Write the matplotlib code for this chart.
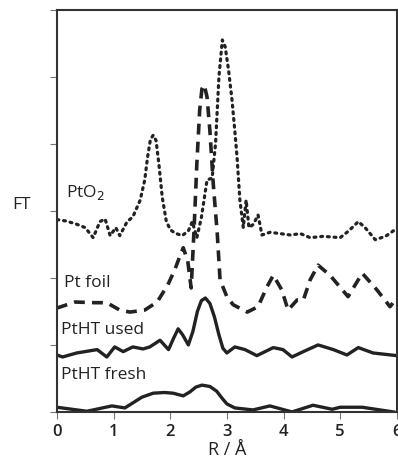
import numpy as np
import matplotlib.pyplot as plt

plt.rcParams['font.family'] = ['Open Sans', 'DejaVu Sans']

# PtO2 (dotted)
r_pto2 = [0.0, 0.15, 0.32, 0.5, 0.64, 0.76, 0.85, 0.94, 1.04, 1.11, 1.24, 1.34, 1.47,
          1.55, 1.6, 1.65, 1.70, 1.75, 1.8, 1.86, 1.93, 2.0, 2.08, 2.21, 2.32, 2.39, 2.47,
          2.55, 2.65, 2.74, 2.8, 2.86, 2.92, 2.97, 3.03, 3.09, 3.14, 3.18, 3.23, 3.29,
          3.34, 3.39, 3.47, 3.55, 3.62, 3.76, 3.95, 4.12, 4.3, 4.47, 4.7, 5.0, 5.15,
          5.32, 5.44, 5.62, 5.8, 5.97]
ft_pto2 = [2.87, 2.85, 2.81, 2.75, 2.6, 2.84, 2.88, 2.63, 2.75, 2.63, 2.84, 2.91, 3.16,
           3.46, 3.8, 4.06, 4.13, 4.05, 3.7, 3.2, 2.85, 2.72, 2.67, 2.63, 2.7, 2.84, 2.6,
           2.9, 3.46, 3.49, 4.0, 5.0, 5.55, 5.45, 5.1, 4.66, 4.2, 3.8, 3.16, 2.75,
           3.16, 2.75, 2.8, 2.94, 2.64, 2.68, 2.66, 2.64, 2.66, 2.6, 2.62, 2.6, 2.7,
           2.84, 2.75, 2.57, 2.62, 2.72]

# Pt foil (dashed)
r_foil = [0.0, 0.32, 0.67, 0.88, 1.11, 1.29, 1.55, 1.77, 1.96, 2.08, 2.16, 2.23, 2.31,
          2.37, 2.42, 2.47, 2.52, 2.56, 2.6, 2.65, 2.7, 2.76, 2.83, 2.88, 3.0, 3.11,
          3.36, 3.55, 3.71, 3.82, 3.97, 4.08, 4.24, 4.35, 4.47, 4.61, 4.82, 5.14, 5.39,
          5.65, 5.88, 5.97]
ft_foil = [1.55, 1.64, 1.63, 1.63, 1.52, 1.49, 1.52, 1.64, 1.9, 2.12, 2.3, 2.45, 2.25,
           1.85, 2.7, 3.7, 4.5, 4.82, 4.88, 4.7, 4.2, 3.4, 2.67, 1.97, 1.72, 1.6,
           1.49, 1.57, 1.87, 2.04, 1.82, 1.52, 1.67, 1.67, 1.97, 2.19, 2.04, 1.72, 2.07,
           1.82, 1.57, 1.67]

# PtHT used (solid)
r_used = [0.0, 0.1, 0.35, 0.71, 0.88, 1.02, 1.17, 1.34, 1.52, 1.64, 1.82, 1.97, 2.06,
          2.14, 2.22, 2.32, 2.4, 2.48, 2.55, 2.62, 2.7, 2.78, 2.86, 2.93, 3.0, 3.14,
          3.32, 3.53, 3.82, 3.99, 4.15, 4.35, 4.61, 4.88, 5.12, 5.32, 5.58, 6.0]
ft_used = [0.85, 0.82, 0.88, 0.93, 0.82, 0.97, 0.9, 0.97, 0.94, 0.97, 1.07, 0.93, 1.1,
           1.24, 1.15, 1.0, 1.2, 1.5, 1.66, 1.70, 1.62, 1.42, 1.15, 0.95, 0.88, 0.97,
           0.93, 0.84, 0.96, 0.93, 0.82, 0.9, 1.0, 0.93, 0.85, 0.96, 0.88, 0.84]

# PtHT fresh (solid)
r_fresh = [0.0, 0.53, 0.97, 1.2, 1.35, 1.5, 1.7, 1.9, 2.05, 2.23, 2.35, 2.45, 2.56,
           2.7, 2.82, 2.92, 3.0, 3.14, 3.46, 3.76, 4.15, 4.52, 4.86, 5.0, 5.39, 5.94]
ft_fresh = [0.07, 0.01, 0.09, 0.06, 0.14, 0.22, 0.28, 0.29, 0.28, 0.24, 0.3, 0.37, 0.4,
            0.38, 0.31, 0.2, 0.12, 0.06, 0.03, 0.09, 0.0, 0.1, 0.04, 0.07, 0.07, 0.0]

fig = plt.figure(figsize=(3.98, 4.66), dpi=100)
ax = fig.add_axes([0.143, 0.116, 0.854, 0.863])

ax.plot(r_pto2, ft_pto2, color='#222222', lw=2.3, linestyle=(0, (0.6, 1.5)),
        dash_capstyle='round')
ax.plot(r_foil, ft_foil, color='#222222', lw=2.6, linestyle=(0, (3.0, 2.0)))
ax.plot(r_used, ft_used, color='#222222', lw=2.4, solid_joinstyle='round')
ax.plot(r_fresh, ft_fresh, color='#222222', lw=2.4, solid_joinstyle='round')

ax.text(0.16, 3.28, 'PtO$_2$', fontsize=12.5, color='#222222', va='center')
ax.text(0.12, 1.93, 'Pt foil', fontsize=12.5, color='#222222', va='center')
ax.text(0.07, 1.22, 'PtHT used', fontsize=12.5, color='#222222', va='center')
ax.text(0.07, 0.55, 'PtHT fresh', fontsize=12.5, color='#222222', va='center')

ax.set_xlim(0, 6)
ax.set_ylim(0, 6)
ax.set_xticks(range(7))
ax.set_yticks(range(7))
ax.set_yticklabels([])
ax.tick_params(axis='x', labelsize=12, length=5, color='#777777', labelcolor='#222222')
ax.tick_params(axis='y', length=5, color='#777777')
for lab in ax.get_xticklabels():
    lab.set_fontweight('semibold')
for s in ax.spines.values():
    s.set_linewidth(1.5)
    s.set_color('#333333')

ax.set_xlabel('R / Å', fontsize=13, color='#222222', labelpad=1)
fig.text(0.055, 0.56, 'FT', fontsize=12.5, color='#222222', va='center', ha='center')

fig.savefig('out.png', dpi=100)
